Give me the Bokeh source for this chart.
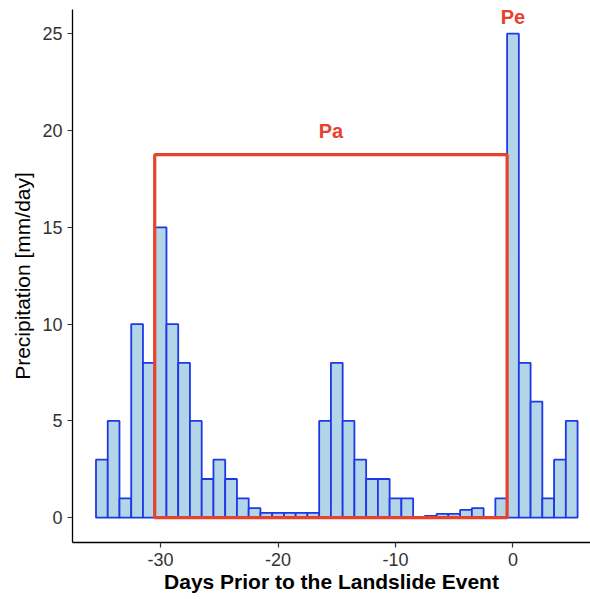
from bokeh.plotting import figure
from bokeh.models import ColumnDataSource, Range1d, FixedTicker, PrintfTickFormatter
from bokeh.core.properties import value
from bokeh.embed import file_html
from bokeh.resources import INLINE

# Daily precipitation (mm/day) relative to the landslide day (day 0)
days = list(range(-35, 6))
precip = [3, 5, 1, 10, 8, 15, 10, 8, 5, 2, 3, 2, 1, 0.5,
          0.25, 0.25, 0.25, 0.25, 0.25,
          5, 8, 5, 3, 2, 2, 1, 1, 0, 0.1, 0.2, 0.2, 0.4, 0.5, 0, 1,
          25, 8, 6, 1, 3, 5]

# Antecedent window (Pa) and event-day marker (Pe)
pa_left, pa_right, pa_top = -30.5, -0.5, 18.75
pa_label_x, pa_label_y = -15.5, 20.0
pe_label_x, pe_label_y = 0.0, 25.85

x_ticks = [-30, -20, -10, 0]
y_ticks = [0, 5, 10, 15, 20, 25]

RED = "#e8412c"
FONT = "Liberation Sans"

src = ColumnDataSource(dict(day=days, p=precip))

p = figure(width=590, height=599, output_backend="svg", toolbar_location=None,
           x_range=Range1d(-37.5, 6.6), y_range=Range1d(-1.28, 26.25),
           min_border_left=72, min_border_right=0, min_border_top=9,
           min_border_bottom=57)
p.outline_line_color = None
p.xgrid.visible = False
p.ygrid.visible = False
p.background_fill_color = "white"
p.border_fill_color = "white"

p.vbar(x="day", top="p", bottom=0, width=1.0, source=src,
       fill_color="#b3d5e8", line_color="#1f38e6", line_width=1.8)

p.quad(left=[pa_left], right=[pa_right], bottom=[0], top=[pa_top],
       fill_alpha=0, line_color=RED, line_width=3.2)

p.text(x=[pa_label_x], y=[pa_label_y], text=["Pa"], text_color=RED,
       text_font=value(FONT), text_font_style="bold", text_font_size="20px",
       text_align="center", text_baseline="middle")
p.text(x=[pe_label_x], y=[pe_label_y], text=["Pe"], text_color=RED,
       text_font=value(FONT), text_font_style="bold", text_font_size="20px",
       text_align="center", text_baseline="middle")

for ax in (p.xaxis[0], p.yaxis[0]):
    ax.axis_line_color = "black"
    ax.axis_line_width = 1.3
    ax.major_tick_line_color = "#333333"
    ax.major_tick_line_width = 1.2
    ax.major_tick_out = 5
    ax.major_tick_in = 0
    ax.minor_tick_line_color = None
    ax.formatter = PrintfTickFormatter(format="%d")
    ax.major_label_text_font = FONT
    ax.major_label_text_font_size = "18px"
    ax.major_label_text_color = "#333333"
    ax.axis_label_text_font = FONT
    ax.axis_label_text_font_size = "21px"
    ax.axis_label_text_color = "black"

p.xaxis[0].ticker = FixedTicker(ticks=x_ticks)
p.yaxis[0].ticker = FixedTicker(ticks=y_ticks)
p.xaxis[0].axis_label = "Days Prior to the Landslide Event"
p.xaxis[0].axis_label_text_font_style = "bold"
p.xaxis[0].axis_label_standoff = 1
p.xaxis[0].major_label_standoff = 5
p.yaxis[0].axis_label = "Precipitation [mm/day]"
p.yaxis[0].axis_label_text_font_style = "normal"
p.yaxis[0].axis_label_standoff = 5
p.yaxis[0].major_label_standoff = 5

open("out.html", "w").write(file_html(p, INLINE))
